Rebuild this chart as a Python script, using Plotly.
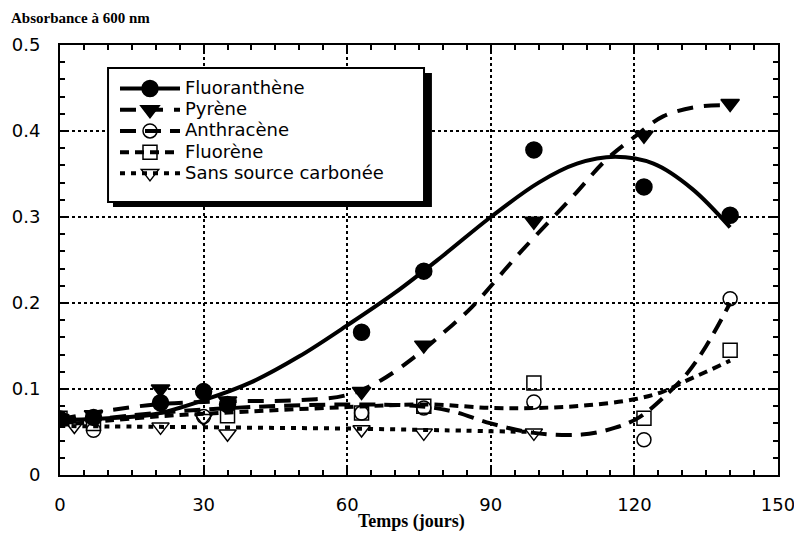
import plotly.graph_objs as go

# measured points (days, absorbance at 600 nm)
fluoranthene_x = [0, 7, 21, 30, 35, 63, 76, 99, 122, 140]
fluoranthene_y = [0.065, 0.067, 0.084, 0.097, 0.082, 0.166, 0.237, 0.378, 0.335, 0.302]
pyrene_x = [0, 7, 21, 35, 63, 76, 99, 122, 140]
pyrene_y = [0.065, 0.07, 0.1, 0.086, 0.097, 0.151, 0.295, 0.395, 0.432]
anthracene_x = [0, 7, 30, 63, 76, 99, 122, 140]
anthracene_y = [0.065, 0.052, 0.068, 0.072, 0.078, 0.085, 0.041, 0.205]
fluorene_x = [0, 7, 35, 63, 76, 99, 122, 140]
fluorene_y = [0.066, 0.06, 0.069, 0.072, 0.08, 0.107, 0.066, 0.145]
sans_x = [0, 3, 21, 30, 35, 63, 76, 99]
sans_y = [0.066, 0.057, 0.056, 0.066, 0.048, 0.053, 0.049, 0.049]

# fitted curves
fit_fluo_x = [0, 10, 20, 30, 40, 50, 60, 70, 80, 90, 100, 108, 116, 124, 132, 140]
fit_fluo_y = [0.064, 0.066, 0.071, 0.087, 0.108, 0.138, 0.174, 0.212, 0.255, 0.300, 0.340, 0.362, 0.370, 0.362, 0.333, 0.288]
fit_pyr_x = [0, 10, 20, 30, 40, 50, 60, 67, 74, 80, 86, 96, 107, 114, 120, 126, 133, 140]
fit_pyr_y = [0.065, 0.075, 0.082, 0.085, 0.086, 0.087, 0.093, 0.11, 0.137, 0.165, 0.195, 0.258, 0.323, 0.366, 0.393, 0.417, 0.428, 0.43]
fit_anth_x = [0, 20, 40, 60, 75, 82, 90, 99, 109, 116, 121, 127, 131, 135, 140]
fit_anth_y = [0.06, 0.072, 0.079, 0.082, 0.08, 0.074, 0.06, 0.049, 0.047, 0.055, 0.067, 0.095, 0.118, 0.15, 0.2]
fit_fluor_x = [0, 20, 40, 60, 77, 90, 100, 110, 120, 126, 131, 135, 140]
fit_fluor_y = [0.058, 0.068, 0.074, 0.079, 0.082, 0.078, 0.078, 0.081, 0.088, 0.097, 0.11, 0.12, 0.133]
fit_sans_x = [0, 20, 40, 60, 80, 99]
fit_sans_y = [0.057, 0.056, 0.055, 0.054, 0.052, 0.05]

names = ['Fluoranthène', 'Pyrène', 'Anthracène', 'Fluorène', 'Sans source carbonée']
symbols = ['circle', 'triangle-down', 'circle-open', 'square-open', 'triangle-down-open']
sizes = [16, 16, 14, 14, 15]
dashes = ['solid', '16px,11px', '16px,9px', '9px,6px', '5px,6px']
points = [(fluoranthene_x, fluoranthene_y), (pyrene_x, pyrene_y), (anthracene_x, anthracene_y),
          (fluorene_x, fluorene_y), (sans_x, sans_y)]
fits = [(fit_fluo_x, fit_fluo_y), (fit_pyr_x, fit_pyr_y), (fit_anth_x, fit_anth_y),
        (fit_fluor_x, fit_fluor_y), (fit_sans_x, fit_sans_y)]

SANS = 'DejaVu Sans, Arial, sans-serif'
SERIF = 'Times New Roman, Liberation Serif, serif'

fig = go.Figure()
for i, name in enumerate(names):
    fx, fy = fits[i]
    fig.add_trace(go.Scatter(x=fx, y=fy, mode='lines', showlegend=False, hoverinfo='skip',
                             line=dict(color='black', width=4, dash=dashes[i], shape='spline')))
for i, name in enumerate(names):
    px, py = points[i]
    fig.add_trace(go.Scatter(x=px, y=py, mode='markers', name=name, showlegend=False,
                             marker=dict(symbol=symbols[i], size=sizes[i], color='black',
                                         line=dict(color='black', width=1.5))))
# legend-only entries (line + marker); bigger text, tighter rows
for i, name in enumerate(names):
    fig.add_trace(go.Scatter(x=[None], y=[None], mode='lines+markers',
                             name='<span style="font-size:18px">%s</span>' % name,
                             marker=dict(symbol=symbols[i], size=sizes[i], color='black',
                                         line=dict(color='black', width=1.5)),
                             line=dict(color='black', width=4, dash=dashes[i])))

axis_common = dict(
    showline=True, linecolor='black', linewidth=2, mirror='allticks',
    ticks='inside', ticklen=9, tickwidth=2, tickcolor='black',
    showgrid=True, gridcolor='black', gridwidth=1.5, griddash='dot',
    zeroline=False, automargin=False,
    tickfont=dict(family=SANS, size=18, color='black'),
)

# the page body adds 8px around the figure, so the figure is 8px smaller
fig.update_layout(
    width=794, height=527,
    margin=dict(l=52, r=24, t=37, b=60),
    plot_bgcolor='white', paper_bgcolor='white',
    xaxis=dict(range=[0, 150], tickvals=[0, 30, 60, 90, 120, 150], ticklabelstandoff=12,
               minor=dict(dtick=5, ticks='inside', ticklen=5, tickwidth=1.5, tickcolor='black', showgrid=False),
               **axis_common),
    yaxis=dict(range=[0, 0.5], tickvals=[0, 0.1, 0.2, 0.3, 0.4, 0.5],
               ticktext=['0', '0.1', '0.2', '0.3', '0.4', '0.5'], ticklabelstandoff=14,
               minor=dict(dtick=0.02, ticks='inside', ticklen=5, tickwidth=1.5, tickcolor='black', showgrid=False),
               **axis_common),
    legend=dict(x=0.0766, y=0.935, xanchor='left', yanchor='top',
                bgcolor='rgba(0,0,0,0)', borderwidth=0,
                itemwidth=60, tracegroupgap=0,
                font=dict(family=SANS, size=14, color='black')),
    shapes=[
        # legend box shadow, then the box itself
        dict(type='rect', xref='paper', yref='paper', x0=0.0738, x1=0.518, y0=0.623, y1=0.935,
             fillcolor='black', line=dict(width=0), layer='above'),
        dict(type='rect', xref='paper', yref='paper', x0=0.0669, x1=0.507, y0=0.635, y1=0.9465,
             fillcolor='white', line=dict(color='black', width=2), layer='above'),
    ],
    annotations=[
        dict(text='<b>Absorbance à 600 nm</b>', xref='paper', yref='paper',
             x=-0.071, y=1.063, xanchor='left', yanchor='middle', showarrow=False,
             font=dict(family=SERIF, size=15, color='black')),
        dict(text='<b>Temps (jours)</b>', xref='paper', yref='paper',
             x=0.49, y=-0.109, xanchor='center', yanchor='middle', showarrow=False,
             font=dict(family=SERIF, size=18, color='black')),
    ],
)

fig.write_html("out.html")
